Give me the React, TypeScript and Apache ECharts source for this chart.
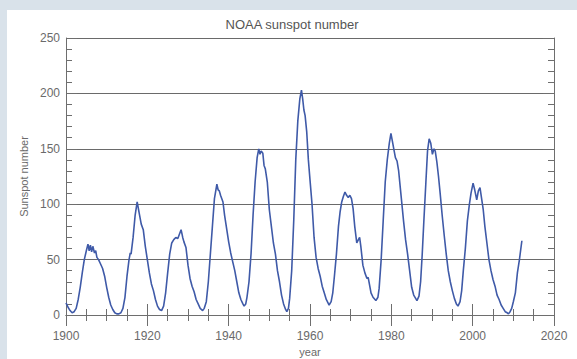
import React, { useEffect, useRef } from "react";
import * as echarts from "echarts";

const years: number[] = [
  1900.0, 1900.5, 1901.0, 1901.5, 1902.0, 1902.5, 1903.0, 1903.5, 1904.0, 1904.5,
  1905.0, 1905.4, 1905.7, 1906.0, 1906.3, 1906.6, 1907.0, 1907.3, 1907.6, 1908.0,
  1908.5, 1909.0, 1909.5, 1910.0, 1910.5, 1911.0, 1911.5, 1912.0, 1912.5, 1913.0,
  1913.5, 1914.0, 1914.5, 1915.0, 1915.5, 1915.8, 1916.0, 1916.5, 1917.0, 1917.5,
  1918.0, 1918.5, 1919.0, 1919.5, 1920.0, 1920.5, 1921.0, 1921.5, 1922.0, 1922.5,
  1923.0, 1923.5, 1924.0, 1924.5, 1925.0, 1925.5, 1926.0, 1926.5, 1927.0, 1927.5,
  1928.0, 1928.3, 1928.7, 1929.0, 1929.5, 1930.0, 1930.5, 1931.0, 1931.5, 1932.0,
  1932.5, 1933.0, 1933.6, 1934.0, 1934.5, 1935.0, 1935.5, 1936.0, 1936.5, 1937.1,
  1937.4, 1937.7, 1938.0, 1938.6, 1939.0, 1939.5, 1940.0, 1940.5, 1941.0, 1941.5,
  1942.0, 1942.5, 1943.0, 1943.5, 1943.8, 1944.2, 1944.5, 1945.0, 1945.5, 1946.0,
  1946.5, 1947.0, 1947.4, 1947.7, 1948.0, 1948.4, 1948.7, 1949.0, 1949.5, 1950.0,
  1950.5, 1951.0, 1951.5, 1952.0, 1952.5, 1953.0, 1953.5, 1954.0, 1954.3, 1954.7,
  1955.0, 1955.5, 1956.0, 1956.5, 1957.0, 1957.5, 1957.9, 1958.2, 1958.5, 1958.8,
  1959.2, 1959.6, 1960.0, 1960.5, 1961.0, 1961.5, 1962.0, 1962.5, 1963.0, 1963.5,
  1964.0, 1964.7, 1965.2, 1965.6, 1966.0, 1966.5, 1967.0, 1967.4, 1967.8, 1968.2,
  1968.6, 1969.0, 1969.4, 1969.8, 1970.2, 1970.6, 1971.0, 1971.5, 1971.9, 1972.2,
  1972.5, 1973.0, 1973.5, 1974.0, 1974.3, 1974.7, 1975.0, 1975.5, 1976.2, 1976.7,
  1977.0, 1977.5, 1978.0, 1978.5, 1979.0, 1979.5, 1979.9, 1980.3, 1980.6, 1981.0,
  1981.4, 1981.8, 1982.2, 1982.6, 1983.0, 1983.5, 1984.0, 1984.5, 1985.0, 1985.5,
  1986.3, 1986.8, 1987.2, 1987.6, 1988.0, 1988.5, 1988.9, 1989.3, 1989.7, 1990.1,
  1990.5, 1990.8, 1991.2, 1991.6, 1992.0, 1992.5, 1993.0, 1993.5, 1994.0, 1994.5,
  1995.0, 1995.5, 1996.0, 1996.4, 1996.9, 1997.3, 1997.7, 1998.2, 1998.7, 1999.2,
  1999.6, 2000.1, 2000.5, 2001.0, 2001.4, 2001.8, 2002.2, 2002.6, 2003.0, 2003.5,
  2004.0, 2004.5, 2005.0, 2005.5, 2006.0, 2006.5, 2007.0, 2007.5, 2008.0, 2008.5,
  2008.8, 2009.2, 2009.6, 2010.0, 2010.5, 2011.0, 2011.5, 2012.1,
];

const sunspots: number[] = [
  11, 7, 4, 2, 3, 6, 14, 25, 38, 50,
  58, 64, 58, 63, 57, 62, 56, 58, 52, 50,
  46, 42, 35, 25, 16, 9, 5, 2, 1, 1,
  2, 6, 16, 35, 50, 56, 55, 70, 90, 102,
  92, 82, 77, 62, 50, 38, 28, 22, 14, 8,
  5, 4, 8, 20, 38, 55, 65, 68, 70, 69,
  74, 77, 70, 66, 61, 45, 33, 26, 21, 14,
  10, 6, 4, 6, 12, 30, 55, 80, 105, 118,
  113, 112, 108, 102, 90, 78, 66, 56, 48, 40,
  30, 20, 14, 10, 8, 10, 16, 30, 55, 90,
  120, 142, 150, 145, 148, 146, 135, 132, 120, 95,
  80, 65, 55, 40, 30, 18, 10, 5, 3, 6,
  15, 40, 85, 140, 175, 195, 203, 195, 185, 180,
  165, 140, 122, 100, 70, 52, 42, 35, 26, 20,
  14, 9, 12, 20, 35, 55, 80, 93, 102, 107,
  111, 108, 106, 108, 105, 96, 80, 65, 68, 70,
  62, 45, 38, 33, 34, 26, 20, 16, 13, 16,
  24, 50, 85, 120, 140, 155, 164, 156, 150, 142,
  139, 130, 115, 100, 85, 68, 55, 40, 25, 18,
  13, 17, 30, 55, 85, 120, 148, 159, 155, 145,
  150, 148, 138, 125, 110, 90, 72, 55, 40, 30,
  22, 15, 10, 8, 12, 22, 40, 60, 85, 100,
  110, 119, 113, 104, 112, 115, 105, 95, 80, 65,
  50, 40, 32, 26, 18, 14, 9, 6, 3, 2,
  1, 3, 6, 12, 20, 38, 50, 67,
];

const titleText = "NOAA sunspot number";
const xName = "year";
const yName = "Sunspot number";

export default function App() {
  const ref = useRef<HTMLDivElement>(null);
  useEffect(() => {
    if (!ref.current) return;
    const chart = echarts.init(ref.current, undefined, { renderer: "svg" });
    const axisColor = "#6e6e6e";
    const labelColor = "#6a6a6a";
    const font = "Liberation Sans, Arial, sans-serif";
    const xCommon = {
      type: "value" as const,
      min: 1900,
      max: 2020,
      interval: 20,
      axisLine: { show: true, lineStyle: { color: axisColor, width: 1 } },
      axisTick: { show: true, inside: true, length: 11, lineStyle: { color: axisColor } },
      minorTick: { show: true, splitNumber: 4, length: 6, lineStyle: { color: axisColor } },
      splitLine: { show: false },
    };
    const yCommon = {
      type: "value" as const,
      min: 0,
      max: 250,
      interval: 50,
      axisLine: { show: true, lineStyle: { color: axisColor, width: 1 } },
      axisTick: { show: true, inside: true, length: 11, lineStyle: { color: axisColor } },
      minorTick: { show: true, splitNumber: 5, length: 6, lineStyle: { color: axisColor } },
    };
    chart.setOption({
      animation: false,
      backgroundColor: "#ffffff",
      title: {
        text: titleText,
        left: "center",
        top: 3,
        textStyle: { fontSize: 13, fontWeight: "normal", color: "#555", fontFamily: font },
      },
      grid: {
        left: 59,
        right: 23,
        top: 28,
        bottom: 44,
        containLabel: false,
        outerBoundsMode: "none",
      },
      xAxis: [
        {
          ...xCommon,
          position: "bottom",
          name: xName,
          nameLocation: "middle",
          nameGap: 31,
          nameTextStyle: { fontSize: 11, color: labelColor, fontFamily: font },
          axisLabel: {
            show: true,
            margin: 15,
            fontSize: 12,
            color: labelColor,
            fontFamily: font,
            formatter: (v: number) => String(v),
          },
        },
        {
          ...xCommon,
          position: "top",
          axisLabel: { show: false },
        },
      ],
      yAxis: [
        {
          ...yCommon,
          position: "left",
          name: yName,
          nameLocation: "middle",
          nameGap: 31,
          nameTextStyle: { fontSize: 11, color: labelColor, fontFamily: font },
          axisLabel: { show: true, margin: 6, fontSize: 12, color: labelColor, fontFamily: font },
          splitLine: { show: true, lineStyle: { color: "#6a6a6a", width: 1 } },
        },
        {
          ...yCommon,
          position: "right",
          axisLabel: { show: false },
          splitLine: { show: false },
        },
      ],
      series: [
        {
          type: "line",
          xAxisIndex: 0,
          yAxisIndex: 0,
          data: years.map((y, i) => [y, sunspots[i]]),
          showSymbol: false,
          lineStyle: { color: "#3f5aa8", width: 1.6 },
        },
      ],
    });
    return () => chart.dispose();
  }, []);
  return (
    <div
      style={{
        position: "fixed",
        left: 0,
        top: 0,
        width: 577,
        height: 359,
        background: "#d9e2ea",
      }}
    >
      <div
        ref={ref}
        style={{ position: "absolute", left: 7, top: 10, width: 570, height: 349 }}
      />
    </div>
  );
}
